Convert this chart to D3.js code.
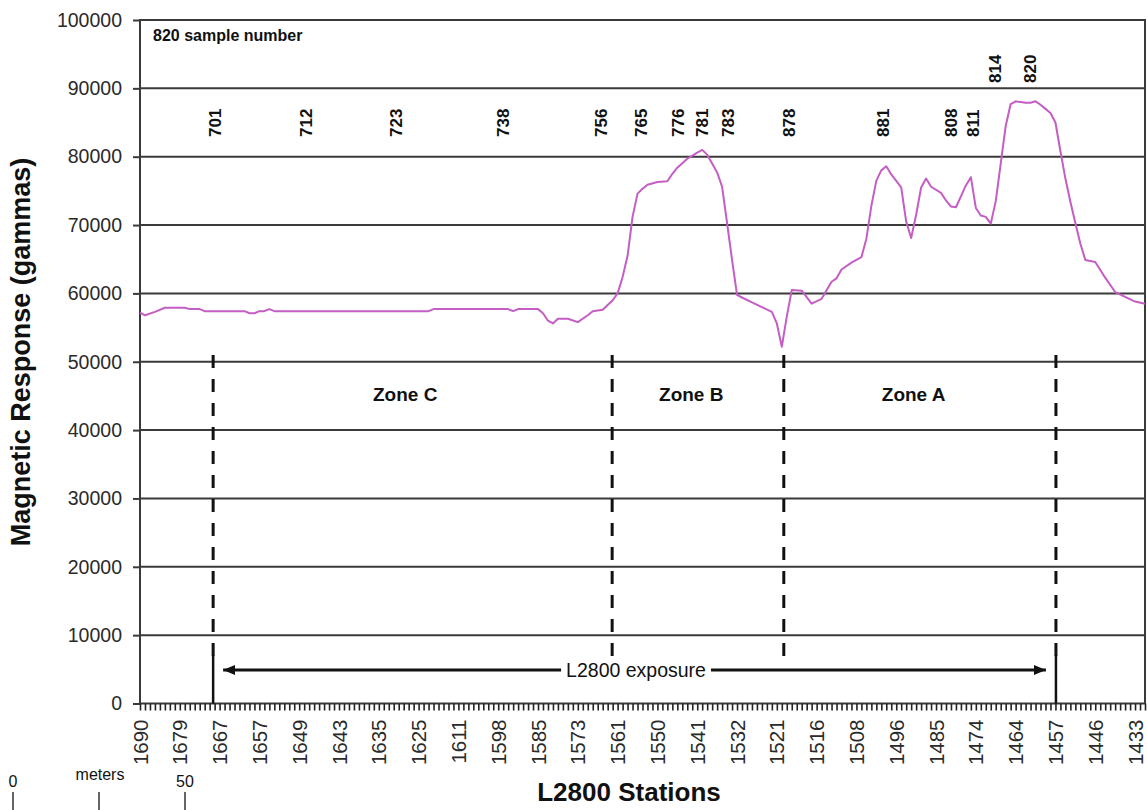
<!DOCTYPE html>
<html>
<head>
<meta charset="utf-8">
<script src="https://cdn.jsdelivr.net/npm/d3@7"></script>
<style>
  body { margin: 0; background: #fff; }
  svg text { font-family: "Liberation Sans", Arial, sans-serif; }
</style>
</head>
<body>
<div id="chart"></div>
<script>
'use strict';

// station labels shown on the axis (every 8th station along L2800)
var stationLabels = ['1690', '1679', '1667', '1657', '1649', '1643', '1635', '1625', '1611',
  '1598', '1585', '1573', '1561', '1550', '1541', '1532', '1521', '1516', '1508', '1496',
  '1485', '1474', '1464', '1457', '1446', '1433'];
var stationCount = 203;
var labelStep = 8;

var yTicks = [0, 10000, 20000, 30000, 40000, 50000, 60000, 70000, 80000, 90000, 100000];

// [station index, gammas]
var readings = [
  [0, 57200], [1, 56800], [3, 57300], [5, 57900], [9, 57900], [10, 57700], [12, 57700],
  [13, 57400], [21, 57400], [22, 57100], [23, 57100], [24, 57400], [25, 57400], [26, 57700],
  [27, 57400], [58, 57400], [59, 57700], [74, 57700], [75, 57400], [76, 57700], [80, 57700],
  [81, 57100], [82, 56000], [83, 55600], [84, 56300], [86, 56300], [88, 55800], [90, 56800],
  [91, 57400], [93, 57600], [94, 58300], [95, 59000], [96, 60000], [97, 62400], [98, 65500],
  [99, 71200], [100, 74600], [101, 75300], [102, 75900], [104, 76300], [106, 76400],
  [107, 77500], [108, 78400], [110, 79700], [112, 80600], [113, 81000], [114, 80300],
  [115, 79000], [116, 77700], [117, 75600], [118, 70300], [119, 64900], [120, 59800],
  [121, 59400], [123, 58700], [125, 58000], [127, 57300], [128, 55600], [129, 52200],
  [130, 56600], [131, 60500], [133, 60400], [135, 58500], [137, 59200], [139, 61700],
  [140, 62200], [141, 63500], [143, 64500], [145, 65300], [146, 68000], [147, 72800],
  [148, 76500], [149, 78000], [150, 78600], [151, 77400], [153, 75500], [154, 70500],
  [155, 68100], [156, 71500], [157, 75500], [158, 76800], [159, 75600], [161, 74700],
  [162, 73600], [163, 72700], [164, 72600], [165, 74200], [166, 75800], [167, 77000],
  [168, 72500], [169, 71400], [170, 71200], [171, 70200], [172, 73500], [173, 79000],
  [174, 84500], [175, 87700], [176, 88100], [177, 88000], [178, 87900], [179, 87900],
  [180, 88100], [181, 87600], [182, 87000], [183, 86400], [184, 85000], [185, 80800],
  [186, 76800], [187, 73400], [188, 70300], [189, 67300], [190, 64900], [192, 64600],
  [194, 62300], [196, 60200], [198, 59500], [200, 58800], [202, 58500]
];

// sample numbers and the station index they sit over
var samples = [['701', 15.1], ['712', 33.5], ['723', 51.6], ['738', 73], ['756', 92.8],
  ['765', 100.8], ['776', 108.2], ['781', 113.1], ['783', 118.3], ['878', 130.5],
  ['881', 149.4], ['808', 163.2], ['811', 167.5], ['814', 171.9], ['820', 178.9]];
var raisedSamples = ['814', '820'];

var zoneEdges = [14.7, 94.9, 129.4, 184.1];
var zones = [['Zone C', 53.3], ['Zone B', 110.8], ['Zone A', 155.5]];
var scaleBarMeters = [0, 25, 50];

var width = 1147, height = 810;
var plot = {left: 140, right: 1145, top: 20, bottom: 703.5};

var svg = d3.select('#chart').append('svg')
  .attr('width', width)
  .attr('height', height);

var x = d3.scaleLinear()
  .domain([0, stationCount - 1])
  .range([plot.left, plot.right]);

var y = d3.scaleLinear()
  .domain([0, 100000])
  .range([plot.bottom, plot.top]);

var gridColor = '#3a3a3a';

// horizontal grid lines
svg.append('g').selectAll('line')
  .data(yTicks.slice(1, -1))
  .enter().append('line')
    .attr('x1', plot.left).attr('x2', plot.right)
    .attr('y1', function(d) { return y(d); })
    .attr('y2', function(d) { return y(d); })
    .attr('stroke', gridColor)
    .attr('stroke-width', 2);

svg.append('rect')
  .attr('x', plot.left).attr('y', plot.top)
  .attr('width', plot.right - plot.left).attr('height', plot.bottom - plot.top)
  .attr('fill', 'none')
  .attr('stroke', gridColor)
  .attr('stroke-width', 2);

// y axis
var yAxis = d3.axisLeft(y)
  .tickValues(yTicks)
  .tickSize(7)
  .tickPadding(11)
  .tickFormat(d3.format('d'));

var gy = svg.append('g')
  .attr('transform', 'translate(' + plot.left + ',0)')
  .call(yAxis);
gy.select('.domain').remove();
gy.selectAll('line').attr('stroke', gridColor).attr('stroke-width', 2);
gy.selectAll('text')
  .style('font-size', '19.5px')
  .attr('fill', '#2a2a2a');

// x axis: a tick per station, a label every 8th
var labelIndex = stationLabels.map(function(d, i) { return i * labelStep; });

var xAxis = d3.axisBottom(x)
  .tickValues(d3.range(stationCount))
  .tickSize(7)
  .tickFormat('');

var gx = svg.append('g')
  .attr('transform', 'translate(0,' + plot.bottom + ')')
  .call(xAxis);
gx.select('.domain').remove();
gx.selectAll('line').attr('stroke', '#222').attr('stroke-width', 1.6);

svg.append('g').selectAll('text')
  .data(stationLabels)
  .enter().append('text')
    .attr('transform', function(d, i) {
      return 'translate(' + x(labelIndex[i]) + ',' + (plot.bottom + 16) + ') rotate(-90)';
    })
    .attr('text-anchor', 'end')
    .attr('dominant-baseline', 'central')
    .style('font-size', '20.5px')
    .attr('fill', '#2a2a2a')
    .text(function(d) { return d; });

// magnetic profile
var line = d3.line()
  .x(function(d) { return x(d[0]); })
  .y(function(d) { return y(d[1]); });

svg.append('path')
  .datum(readings)
  .attr('d', line)
  .attr('fill', 'none')
  .attr('stroke', '#c45ec4')
  .attr('stroke-width', 2)
  .attr('stroke-linejoin', 'round');

// zone boundaries
svg.append('g').selectAll('line')
  .data(zoneEdges)
  .enter().append('line')
    .attr('x1', function(d) { return x(d); })
    .attr('x2', function(d) { return x(d); })
    .attr('y1', y(51000))
    .attr('y2', y(6500))
    .attr('stroke', '#111')
    .attr('stroke-width', 3)
    .attr('stroke-dasharray', '13,11');

svg.append('g').selectAll('text')
  .data(zones)
  .enter().append('text')
    .attr('x', function(d) { return x(d[1]); })
    .attr('y', 401)
    .attr('text-anchor', 'middle')
    .style('font-size', '19px')
    .style('font-weight', 'bold')
    .attr('fill', '#111')
    .text(function(d) { return d[0]; });

// exposure extent
var exposure = [zoneEdges[0], zoneEdges[zoneEdges.length - 1]];

svg.append('g').selectAll('line')
  .data(exposure)
  .enter().append('line')
    .attr('x1', function(d) { return x(d); })
    .attr('x2', function(d) { return x(d); })
    .attr('y1', y(7100))
    .attr('y2', y(0))
    .attr('stroke', '#111')
    .attr('stroke-width', 2.5);

var defs = svg.append('defs');
defs.append('marker')
    .attr('id', 'head')
    .attr('viewBox', '0 0 12 10')
    .attr('refX', 12).attr('refY', 5)
    .attr('markerWidth', 12).attr('markerHeight', 10)
    .attr('markerUnits', 'userSpaceOnUse')
    .attr('orient', 'auto-start-reverse')
  .append('path')
    .attr('d', 'M0,0L12,5L0,10Z')
    .attr('fill', '#111');

var arrowY = y(4900);
svg.append('line')
  .attr('x1', x(exposure[0]) + 10).attr('x2', x(exposure[1]) - 10)
  .attr('y1', arrowY).attr('y2', arrowY)
  .attr('stroke', '#111')
  .attr('stroke-width', 3)
  .attr('marker-start', 'url(#head)')
  .attr('marker-end', 'url(#head)');

var expGroup = svg.append('g');
var expBg = expGroup.append('rect').attr('fill', '#fff');
var expLabel = expGroup.append('text')
  .attr('x', x(99.7))
  .attr('y', arrowY)
  .attr('text-anchor', 'middle')
  .attr('dominant-baseline', 'central')
  .style('font-size', '19.5px')
  .attr('fill', '#111')
  .text('L2800 exposure');

var bb = expLabel.node().getBBox();
expBg
  .attr('x', bb.x - 5).attr('y', bb.y)
  .attr('width', bb.width + 10).attr('height', bb.height);

// sample numbers
svg.append('g').selectAll('text')
  .data(samples)
  .enter().append('text')
    .attr('transform', function(d) {
      var bottom = raisedSamples.indexOf(d[0]) >= 0 ? 83 : 137;
      return 'translate(' + x(d[1]) + ',' + bottom + ') rotate(-90)';
    })
    .attr('dominant-baseline', 'central')
    .style('font-size', '17px')
    .style('font-weight', 'bold')
    .attr('fill', '#111')
    .text(function(d) { return d[0]; });

svg.append('text')
  .attr('x', 153).attr('y', 41)
  .style('font-size', '16px')
  .style('font-weight', 'bold')
  .attr('fill', '#111')
  .text('820 sample number');

// axis titles
svg.append('text')
  .attr('transform', 'translate(30,352) rotate(-90)')
  .attr('text-anchor', 'middle')
  .style('font-size', '27px')
  .style('font-weight', 'bold')
  .attr('fill', '#111')
  .text('Magnetic Response (gammas)');

svg.append('text')
  .attr('x', 629).attr('y', 801)
  .attr('text-anchor', 'middle')
  .style('font-size', '26px')
  .style('font-weight', 'bold')
  .attr('fill', '#111')
  .text('L2800 Stations');

// map scale bar
var sb = d3.scaleLinear().domain([0, 50]).range([13, 185]);
var bar = svg.append('g');
bar.selectAll('line')
  .data(scaleBarMeters)
  .enter().append('line')
    .attr('x1', function(d) { return sb(d); })
    .attr('x2', function(d) { return sb(d); })
    .attr('y1', 792).attr('y2', 810)
    .attr('stroke', '#333')
    .attr('stroke-width', 1.5);
bar.selectAll('text.num')
  .data([scaleBarMeters[0], scaleBarMeters[2]])
  .enter().append('text')
    .attr('class', 'num')
    .attr('x', function(d) { return sb(d); })
    .attr('y', 787)
    .attr('text-anchor', 'middle')
    .style('font-size', '16px')
    .attr('fill', '#111')
    .text(function(d) { return d; });
bar.append('text')
  .attr('x', sb(scaleBarMeters[1]) + 1)
  .attr('y', 780)
  .attr('text-anchor', 'middle')
  .style('font-size', '16px')
  .attr('fill', '#111')
  .text('meters');
</script>
</body>
</html>
